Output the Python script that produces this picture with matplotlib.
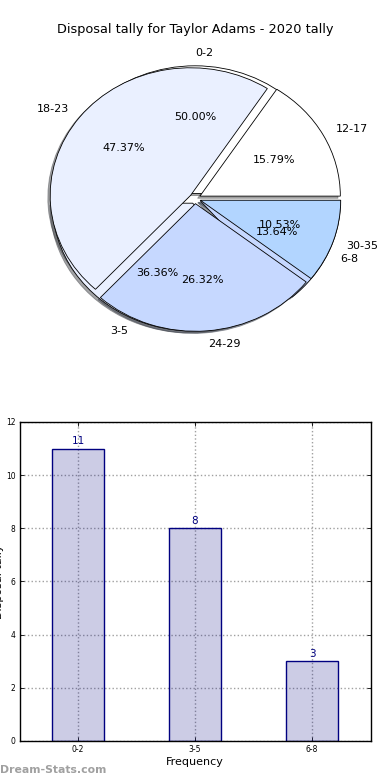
import matplotlib
matplotlib.use("Agg")
import matplotlib.pyplot as plt

# disposal ranges per game and how often each occurred
pie_a_labels = ["0-2", "3-5", "6-8"]
pie_a_values = [11, 8, 3]
pie_b_labels = ["12-17", "18-23", "24-29", "30-35"]
pie_b_values = [3, 9, 5, 2]

bar_labels = ["0-2", "3-5", "6-8"]
bar_values = [11, 8, 3]

pie_colors = ["white", "#eaf0ff", "#c6d8ff", "#b2d5ff"]
explode_amt = 0.04

fig, (ax1, ax2) = plt.subplots(2, 1, figsize=(3.9, 7.8), dpi=100)
fig.subplots_adjust(left=0.05, right=0.95, bottom=0.05, top=0.95, hspace=0.2)

# two pies on top of each other, like the original
pie_texts = []
for vals, labs in [(pie_a_values, pie_a_labels), (pie_b_values, pie_b_labels)]:
    w, t, a = ax1.pie(vals, labels=labs, colors=pie_colors[:len(vals)],
                      explode=[explode_amt] * len(vals), autopct='%1.2f%%',
                      shadow=dict(ox=-0.012, oy=-0.012, shade=0.7),
                      wedgeprops=dict(edgecolor='black', linewidth=0.6),
                      textprops=dict(fontsize=8))
    pie_texts.append(t)
pie_texts[0][0].set_ha('left')  # "0-2" sits just right of centre
ax1.set_aspect('auto')
ax1.set_xlim(-1.25, 1.25)
ax1.set_ylim(-1.25, 1.25)
ax1.set_title('Disposal tally for Taylor Adams - 2020 tally', fontsize=9.3, pad=4)

# bar chart
x = list(range(len(bar_values)))
bars = ax2.bar(x, bar_values, width=0.45, facecolor=(0, 0, 0.5, 0.2),
               edgecolor='navy', linewidth=1, zorder=2)
for xi, v in zip(x, bar_values):
    ax2.text(xi, v + 0.1, str(v), ha='center', va='bottom', color='navy',
             fontsize=7.5, zorder=3)
ax2.set_xlim(-0.5, 2.5)
ax2.set_ylim(0, 12)
ax2.set_xticks(x)
ax2.set_xticklabels(bar_labels)
ax2.set_yticks(range(0, 13, 2))
ax2.tick_params(direction='in', top=True, right=True, labelsize=5.5, length=3,
                width=0.6, pad=3)
ax2.grid(True, linestyle=':', color='#a0a0a0', linewidth=1, zorder=0)
ax2.set_axisbelow(True)
for sp in ax2.spines.values():
    sp.set_linewidth(1)
ax2.set_xlabel('Frequency', fontsize=8, labelpad=2)
ax2.set_ylabel('Disposal tally', fontsize=8)
ax2.yaxis.set_label_coords(-0.045, 0.5)

fig.text(0.0, 0.0128, 'Dream-Stats.com', color='#a0a0a0', fontsize=7.8,
         fontweight='bold', ha='left', va='center')

fig.savefig('out.png', dpi=100)
